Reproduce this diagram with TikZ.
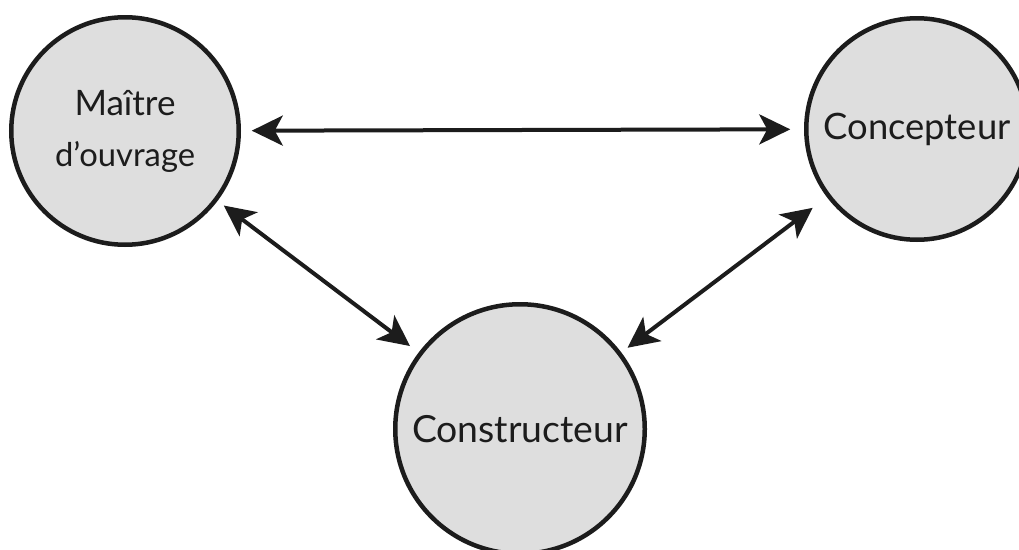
\documentclass[tikz,border=0pt]{standalone}
\usepackage{fontspec}
\setmainfont{Lato}
\usetikzlibrary{arrows.meta}
\definecolor{ink}{HTML}{1C1C1C}
\definecolor{disc}{HTML}{DEDEDE}
\begin{document}
\begin{tikzpicture}[x=1pt,y=-1pt,
  actor/.style={circle, draw=ink, fill=disc, line width=4.5pt, inner sep=0pt,
    outer sep=0pt, text=ink, align=center, font=\fontsize{30}{51}\selectfont},
  tip/.tip={Stealth[length=31pt 0,width=30pt 0,inset=8pt 0]},
  link/.style={draw=ink, line width=4pt, tip-tip}]
\path[use as bounding box, fill=white] (0,0) rectangle (1019,549);

% the three parties
\node[actor, minimum size=227.5pt] (mo) at (125,131)
  {\resizebox{101pt}{!}{Maître}\\\resizebox{140pt}{!}{d’ouvrage}};
\node[actor, minimum size=221.5pt] (co) at (917,129)
  {\resizebox{187pt}{!}{Concepteur}};
\node[actor, minimum size=249.5pt] (cr) at (520,429)
  {\resizebox{216pt}{!}{Constructeur}};

% two-way relations
\draw[link, shorten <=13pt, shorten >=16pt] (mo) -- (co);
\draw[link, shorten <=10pt, shorten >=13pt] (mo) -- (cr);
\draw[link, shorten <=20pt, shorten >=10pt] (co) -- (cr);
\end{tikzpicture}
\end{document}
